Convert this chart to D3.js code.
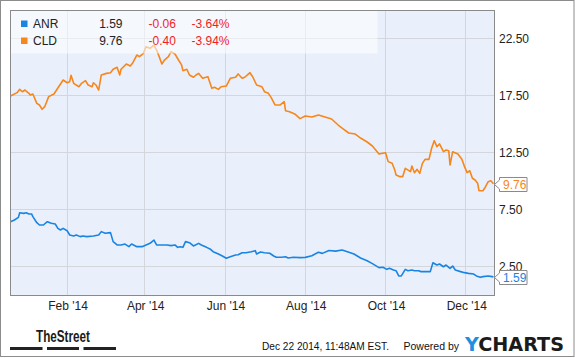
<!DOCTYPE html>
<html><head><meta charset="utf-8">
<script src="https://cdn.jsdelivr.net/npm/d3@7"></script>
<style>body{margin:0;background:#fff}svg{display:block;font-family:"Liberation Sans",Arial,sans-serif}</style>
</head><body><svg id="c" width="575" height="358"></svg>
<script>
const cldDates=["2013-12-20","2013-12-25","2013-12-27","2013-12-29","2013-12-31","2014-01-03","2014-01-04","2014-01-06","2014-01-09","2014-01-11","2014-01-13","2014-01-15","2014-01-18","2014-01-22","2014-01-24","2014-01-27","2014-01-29","2014-02-01","2014-02-03","2014-02-04","2014-02-06","2014-02-10","2014-02-12","2014-02-15","2014-02-17","2014-02-20","2014-02-21","2014-02-23","2014-02-25","2014-02-27","2014-03-03","2014-03-06","2014-03-08","2014-03-11","2014-03-13","2014-03-14","2014-03-18","2014-03-21","2014-03-23","2014-03-26","2014-03-28","2014-03-31","2014-04-02","2014-04-05","2014-04-08","2014-04-10","2014-04-12","2014-04-14","2014-04-16","2014-04-19","2014-04-21","2014-04-24","2014-04-27","2014-04-29","2014-04-30","2014-05-03","2014-05-05","2014-05-08","2014-05-10","2014-05-12","2014-05-15","2014-05-19","2014-05-22","2014-05-24","2014-05-27","2014-05-29","2014-06-02","2014-06-05","2014-06-09","2014-06-11","2014-06-14","2014-06-16","2014-06-20","2014-06-22","2014-06-25","2014-06-29","2014-07-01","2014-07-04","2014-07-06","2014-07-09","2014-07-13","2014-07-16","2014-07-17","2014-07-20","2014-07-24","2014-07-28","2014-08-01","2014-08-06","2014-08-11","2014-08-16","2014-08-21","2014-08-26","2014-08-30","2014-09-03","2014-09-08","2014-09-12","2014-09-17","2014-09-21","2014-09-26","2014-10-01","2014-10-03","2014-10-06","2014-10-08","2014-10-09","2014-10-12","2014-10-14","2014-10-16","2014-10-20","2014-10-21","2014-10-23","2014-10-25","2014-10-27","2014-10-29","2014-10-31","2014-11-03","2014-11-05","2014-11-07","2014-11-09","2014-11-11","2014-11-14","2014-11-16","2014-11-18","2014-11-19","2014-11-21","2014-11-25","2014-11-28","2014-11-30","2014-12-02","2014-12-04","2014-12-06","2014-12-08","2014-12-10","2014-12-11","2014-12-14","2014-12-16","2014-12-18","2014-12-20","2014-12-22"];
const cldValues=[17.46,17.75,18.04,17.83,17.98,17.69,17.54,17.63,16.81,16.67,16.29,16.52,17.40,17.63,17.98,18.51,18.86,18.62,18.71,19.27,18.57,18.27,18.57,18.80,18.42,18.27,18.62,18.42,17.98,19.30,19.44,19.50,19.80,19.97,19.30,19.80,20.26,20.09,20.38,21.05,20.91,21.20,21.78,21.64,21.93,21.49,20.91,20.26,20.61,20.91,21.35,21.14,20.55,20.18,19.68,19.80,19.30,19.10,19.30,19.44,19.01,19.15,18.13,18.22,18.04,18.27,18.33,19.01,19.10,19.39,19.01,19.10,19.50,19.15,18.42,18.27,17.83,17.69,17.34,16.67,16.67,16.96,16.17,16.08,15.88,15.47,15.70,15.61,15.79,15.61,15.44,14.91,14.56,14.21,14.12,13.77,13.42,13.07,12.37,12.48,11.70,11.55,10.96,10.53,10.38,10.38,11.11,10.82,11.32,10.73,11.02,10.67,11.55,11.90,11.90,12.87,13.54,13.01,13.25,12.57,12.72,12.66,11.40,12.57,12.37,11.90,11.26,10.73,10.90,10.24,10.09,9.80,9.15,9.15,9.50,9.94,10.03,9.76];
const anrDates=["2013-12-20","2013-12-23","2013-12-26","2013-12-27","2013-12-30","2014-01-01","2014-01-03","2014-01-05","2014-01-06","2014-01-09","2014-01-11","2014-01-14","2014-01-17","2014-01-20","2014-01-23","2014-01-25","2014-01-27","2014-01-29","2014-02-01","2014-02-03","2014-02-06","2014-02-08","2014-02-11","2014-02-13","2014-02-16","2014-02-21","2014-02-25","2014-02-27","2014-03-02","2014-03-06","2014-03-08","2014-03-11","2014-03-14","2014-03-17","2014-03-20","2014-03-22","2014-03-26","2014-03-30","2014-04-02","2014-04-05","2014-04-08","2014-04-10","2014-04-14","2014-04-18","2014-04-21","2014-04-24","2014-04-26","2014-04-28","2014-04-30","2014-05-02","2014-05-05","2014-05-08","2014-05-12","2014-05-14","2014-05-18","2014-05-21","2014-05-23","2014-05-27","2014-05-30","2014-06-02","2014-06-05","2014-06-09","2014-06-11","2014-06-14","2014-06-17","2014-06-21","2014-06-24","2014-06-25","2014-06-28","2014-07-01","2014-07-05","2014-07-08","2014-07-10","2014-07-14","2014-07-17","2014-07-19","2014-07-23","2014-07-28","2014-08-01","2014-08-06","2014-08-11","2014-08-14","2014-08-19","2014-08-24","2014-08-29","2014-09-02","2014-09-07","2014-09-12","2014-09-17","2014-09-21","2014-09-26","2014-09-29","2014-10-02","2014-10-04","2014-10-07","2014-10-09","2014-10-11","2014-10-13","2014-10-16","2014-10-18","2014-10-21","2014-10-23","2014-10-26","2014-10-28","2014-11-01","2014-11-04","2014-11-06","2014-11-09","2014-11-11","2014-11-14","2014-11-16","2014-11-19","2014-11-21","2014-11-23","2014-11-27","2014-11-30","2014-12-03","2014-12-07","2014-12-09","2014-12-12","2014-12-14","2014-12-18","2014-12-21","2014-12-22"];
const anrValues=[6.43,6.58,6.81,7.22,7.16,7.22,7.11,7.11,6.87,6.34,6.14,6.14,6.43,6.29,6.23,5.85,5.70,5.85,5.64,5.26,5.18,5.26,5.12,5.18,5.12,5.18,5.26,5.56,5.41,5.47,4.68,4.39,4.39,4.47,4.24,4.47,4.24,4.24,4.39,4.53,4.82,4.39,4.39,4.39,4.33,4.39,4.18,4.24,4.18,4.68,4.59,4.30,4.53,4.39,4.18,4.01,3.80,3.60,3.42,3.22,3.36,3.51,3.53,3.71,3.71,3.80,3.89,3.60,3.77,3.71,3.66,3.42,3.31,3.31,3.36,3.25,3.31,3.28,3.30,3.45,3.75,3.65,3.90,3.85,3.95,3.80,3.60,3.25,3.00,2.75,2.40,2.44,2.25,2.34,2.19,2.13,1.67,1.67,2.25,2.13,2.19,2.13,2.13,2.05,2.05,2.05,2.83,2.63,2.72,2.48,2.63,2.34,2.54,2.19,2.05,1.96,1.90,1.84,1.67,1.55,1.61,1.67,1.61,1.59];
const yTicks=[2.5,7.5,12.5,17.5,22.5];
const xTickDates=["2014-02-01","2014-04-01","2014-06-01","2014-08-01","2014-10-01","2014-12-01"];
const xTickLabels=["Feb '14","Apr '14","Jun '14","Aug '14","Oct '14","Dec '14"];
const seriesNames=["ANR","CLD"];
const lastValues=["1.59","9.76"];
const changes=["-0.06","-0.40"];
const pctChanges=["-3.64%","-3.94%"];
const colors=["#1a84e2","#f7861b"];

const parse=d3.timeParse("%Y-%m-%d");
const svg=d3.select("#c");
const L=10.5,R=494.5,T=10.5,B=295.5;
const x=d3.scaleTime().domain([new Date(2013,11,20),new Date(2014,11,22,19)]).range([L,R]);
const y=d3.scaleLinear().domain([0,25]).range([295,10]);

svg.append("rect").attr("x",0.5).attr("y",0.5).attr("width",573.5).attr("height",356).attr("fill","#fff").attr("stroke","#8c8c8c");
svg.append("rect").attr("x",L).attr("y",T).attr("width",R-L).attr("height",B-T).attr("fill","#e9f0fb");

const g=svg.append("g");
g.selectAll(".hg").data(yTicks).join("line").attr("x1",L).attr("x2",R)
 .attr("y1",d=>Math.floor(y(d))+0.5).attr("y2",d=>Math.floor(y(d))+0.5).attr("stroke","#d3d6db");
g.selectAll(".vg").data(xTickDates).join("line").attr("y1",T).attr("y2",B)
 .attr("x1",d=>Math.floor(x(parse(d)))+0.5).attr("x2",d=>Math.floor(x(parse(d)))+0.5).attr("stroke","#d3d6db");

const line=d3.line().x(d=>x(d[0])).y(d=>y(d[1]));
const cld=cldDates.map((d,i)=>[parse(d),cldValues[i]]);
const anr=anrDates.map((d,i)=>[parse(d),anrValues[i]]);
svg.append("path").datum(anr).attr("d",line).attr("fill","none").attr("stroke",colors[0]).attr("stroke-width",1.6).attr("stroke-linejoin","round");
svg.append("path").datum(cld).attr("d",line).attr("fill","none").attr("stroke",colors[1]).attr("stroke-width",1.6).attr("stroke-linejoin","round");

// legend
svg.append("rect").attr("x",L).attr("y",T).attr("width",367).attr("height",43).attr("fill","#fff").attr("opacity",0.55);
seriesNames.forEach((n,i)=>{
  const cy=24+i*17;
  svg.append("rect").attr("x",21).attr("y",cy-3.5).attr("width",6.5).attr("height",6.5).attr("fill",colors[i]);
  svg.append("text").attr("x",33).attr("y",cy+4).attr("font-size",12).attr("fill","#222").text(n);
  svg.append("text").attr("x",122.5).attr("y",cy+4).attr("text-anchor","end").attr("font-size",12).attr("fill","#222").text(lastValues[i]);
  svg.append("text").attr("x",148.5).attr("y",cy+4).attr("font-size",12).attr("fill","#f01e1e").text(changes[i]);
  svg.append("text").attr("x",191.5).attr("y",cy+4).attr("font-size",12).attr("fill","#f01e1e").text(pctChanges[i]);
});

svg.append("rect").attr("x",L).attr("y",T).attr("width",R-L).attr("height",B-T).attr("fill","none").attr("stroke","#8a8a8a");

// y labels
svg.selectAll(".yl").data(yTicks).join("text").attr("x",499).attr("y",d=>y(d)+4.3)
 .attr("font-size",12).attr("fill","#222").text(d=>d.toFixed(2));
// x labels
svg.selectAll(".xl").data(xTickDates).join("text").attr("x",d=>x(parse(d))+1).attr("y",310)
 .attr("text-anchor","middle").attr("font-size",12).attr("fill","#222").text((d,i)=>xTickLabels[i]);

// last value flags
[anr,cld].forEach((s,i)=>{
  const v=s[s.length-1][1], yy=Math.round(y(v))+0.5;
  const bx=499.5, bw=27.5, bh=14;
  const top=yy-bh/2, bot=yy+bh/2;
  svg.append("path").attr("d",`M${R},${yy}L${bx},${yy-4.5}L${bx},${top}L${bx+bw},${top}L${bx+bw},${bot}L${bx},${bot}L${bx},${yy+4.5}Z`)
   .attr("fill","#fff").attr("stroke","#8a8a8a");
  svg.append("text").attr("x",503).attr("y",yy+4.3).attr("font-size",12).attr("fill",colors[i]).text(lastValues[i]);
});

// footer
svg.append("text").attr("x",36).attr("y",341.5).attr("font-size",16).attr("font-weight","bold")
 .attr("font-family","'Liberation Sans Narrow','Arial Narrow',sans-serif").attr("textLength",54).attr("lengthAdjust","spacingAndGlyphs").attr("fill","#1a1a1a").text("TheStreet");
[[10,42.5],[47,79],[83.5,116]].forEach(b=>svg.append("rect").attr("x",b[0]).attr("y",347).attr("width",b[1]-b[0]).attr("height",3).attr("fill","#222"));
svg.append("text").attr("x",262).attr("y",350).attr("font-size",11.5).attr("textLength",127).attr("lengthAdjust","spacingAndGlyphs").attr("fill","#111").text("Dec 22 2014, 11:48AM EST.");
svg.append("text").attr("x",403.5).attr("y",350).attr("font-size",11.5).attr("textLength",55.5).attr("lengthAdjust","spacingAndGlyphs").attr("fill","#111").text("Powered by");
const yc=svg.append("text").attr("x",465).attr("y",350.5).attr("font-size",19).attr("font-weight","bold").attr("font-family","'DejaVu Sans',sans-serif").attr("textLength",99).attr("lengthAdjust","spacingAndGlyphs");
yc.append("tspan").attr("fill","#1e90e2").text("Y");
yc.append("tspan").attr("fill","#1b1b1b").text("CHARTS");
</script></body></html>
